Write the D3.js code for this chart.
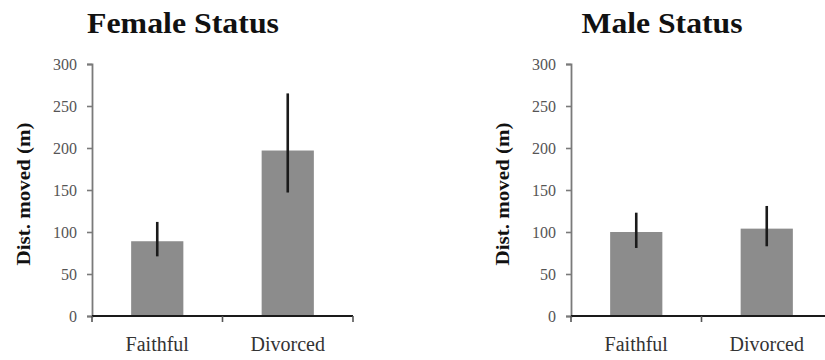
<!DOCTYPE html>
<html>
<head>
<meta charset="utf-8">
<script src="https://cdn.jsdelivr.net/npm/d3@7"></script>
<style>
  html, body { margin: 0; padding: 0; background: #fff; }
  svg { display: block; }
</style>
</head>
<body>
<svg id="chart" width="825" height="360"></svg>
<script>
// Distance moved by status (means with error bars)
const categories = ["Faithful", "Divorced"];
const femaleMeans = [89, 197];
const femaleUpper = [112, 265];
const femaleLower = [71, 147];
const maleMeans = [100, 104];
const maleUpper = [123, 131];
const maleLower = [81, 83];
const yTicks = [0, 50, 100, 150, 200, 250, 300];
const titles = ["Female Status", "Male Status"];
const yLabel = "Dist. moved (m)";

const panels = [
  { title: titles[0], titleWidth: 192, means: femaleMeans, upper: femaleUpper, lower: femaleLower, x0: 92, x1: 353 },
  { title: titles[1], titleWidth: 161, means: maleMeans, upper: maleUpper, lower: maleLower, x0: 571, x1: 832 }
];

const svg = d3.select("#chart");
const serif = "'Liberation Serif', 'Times New Roman', serif";
const plotTop = 64, plotBottom = 316;

panels.forEach(p => {
  const g = svg.append("g");
  const x = d3.scaleBand().domain(categories).range([p.x0, p.x1])
    .paddingInner(0.6).paddingOuter(0.3);
  const y = d3.scaleLinear().domain([0, 300]).range([plotBottom, plotTop]);

  // bars
  g.selectAll("rect.bar").data(categories).join("rect")
    .attr("class", "bar")
    .attr("x", d => x(d))
    .attr("width", x.bandwidth())
    .attr("y", (d, i) => y(p.means[i]))
    .attr("height", (d, i) => y(0) - y(p.means[i]))
    .attr("fill", "#8c8c8c");

  // error bars
  g.selectAll("line.err").data(categories).join("line")
    .attr("class", "err")
    .attr("x1", d => x(d) + x.bandwidth() / 2)
    .attr("x2", d => x(d) + x.bandwidth() / 2)
    .attr("y1", (d, i) => y(p.upper[i]))
    .attr("y2", (d, i) => y(p.lower[i]))
    .attr("stroke", "#1a1a1a")
    .attr("stroke-width", 2.6);

  // y axis
  const yAxis = d3.axisLeft(y).tickValues(yTicks).tickSize(5).tickPadding(10);
  const ya = g.append("g").attr("transform", `translate(${p.x0},0)`).call(yAxis);
  ya.select(".domain").attr("stroke", "#7a7a7a").attr("stroke-width", 1.8);
  ya.selectAll(".tick line").attr("stroke", "#7a7a7a").attr("stroke-width", 1.6);
  ya.selectAll(".tick text").attr("font-family", serif).attr("font-size", 16)
    .attr("fill", "#555");

  // x axis with ticks at band boundaries
  const xa = g.append("g").attr("transform", `translate(0,${plotBottom})`);
  xa.append("line").attr("x1", p.x0).attr("x2", p.x1)
    .attr("stroke", "#1a1a1a").attr("stroke-width", 1.8);
  const bounds = [p.x0, (p.x0 + p.x1) / 2, p.x1];
  xa.selectAll("line.xt").data(bounds).join("line")
    .attr("class", "xt")
    .attr("x1", d => d).attr("x2", d => d)
    .attr("y1", 0).attr("y2", 6)
    .attr("stroke", "#555").attr("stroke-width", 1.6);
  xa.selectAll("text").data(categories).join("text")
    .attr("x", d => x(d) + x.bandwidth() / 2)
    .attr("y", 35)
    .attr("text-anchor", "middle")
    .attr("font-family", serif).attr("font-size", 20)
    .attr("fill", "#333")
    .text(d => d);

  // title
  g.append("text")
    .attr("x", p.x0 + 91)
    .attr("y", 33)
    .attr("text-anchor", "middle")
    .attr("font-family", serif).attr("font-weight", "bold").attr("font-size", 30)
    .attr("textLength", p.titleWidth).attr("lengthAdjust", "spacingAndGlyphs")
    .attr("fill", "#111")
    .text(p.title);

  // y label
  g.append("text")
    .attr("transform", `translate(${p.x0 - 62},${(plotTop + plotBottom) / 2 + 4}) rotate(-90)`)
    .attr("text-anchor", "middle")
    .attr("font-family", serif).attr("font-weight", "bold").attr("font-size", 18)
    .attr("textLength", 143).attr("lengthAdjust", "spacingAndGlyphs")
    .attr("fill", "#111")
    .text(yLabel);
});
</script>
</body>
</html>
